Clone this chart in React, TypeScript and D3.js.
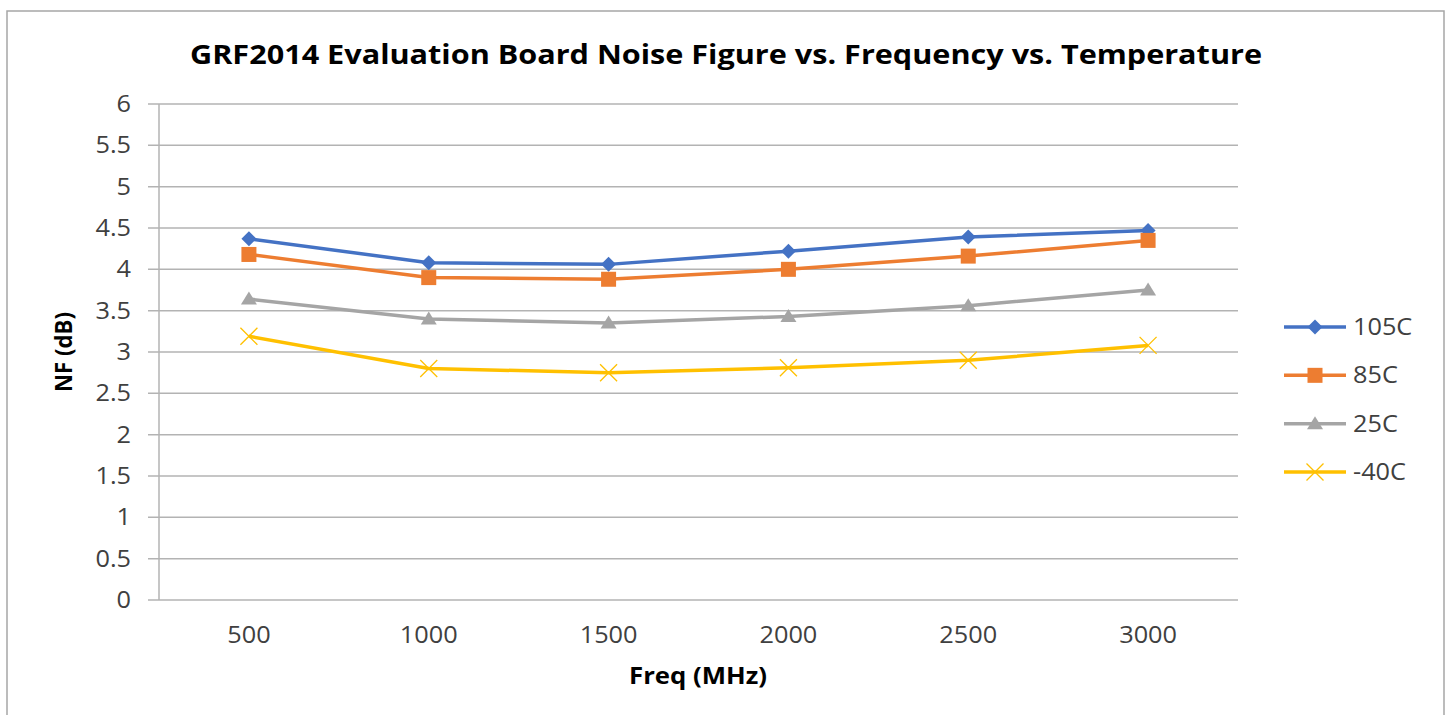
import * as d3 from "d3";

const freqs = ["500", "1000", "1500", "2000", "2500", "3000"];
const seriesNames = ["105C", "85C", "25C", "-40C"];
const nf105 = [4.37, 4.08, 4.06, 4.22, 4.39, 4.47];
const nf85 = [4.18, 3.9, 3.88, 4.0, 4.16, 4.35];
const nf25 = [3.64, 3.4, 3.35, 3.43, 3.56, 3.75];
const nfMinus40 = [3.19, 2.8, 2.75, 2.81, 2.9, 3.08];
const yTicks = [0, 0.5, 1, 1.5, 2, 2.5, 3, 3.5, 4, 4.5, 5, 5.5, 6];

const colors = ["#4472C4", "#ED7D31", "#A5A5A5", "#FFC000"];
const markers = ["diamond", "square", "triangle", "cross"];

const W = 1449;
const H = 715;
const plot = { left: 159, right: 1238, top: 104, bottom: 600 };
const font = "'Open Sans', 'Noto Sans', sans-serif";
const stretch = 1.1;

function Marker({ kind, x, y, color }: { kind: string; x: number; y: number; color: string }) {
  if (kind === "diamond") {
    const s = 7.5;
    return <path d={`M${x},${y - s}L${x + s},${y}L${x},${y + s}L${x - s},${y}Z`} fill={color} />;
  }
  if (kind === "square") {
    return <rect x={x - 7.5} y={y - 7.5} width={15} height={15} fill={color} />;
  }
  if (kind === "triangle") {
    return <path d={`M${x},${y - 7.5}L${x + 8},${y + 5.5}L${x - 8},${y + 5.5}Z`} fill={color} />;
  }
  const s = 8.5;
  return (
    <path
      d={`M${x - s},${y - s}L${x + s},${y + s}M${x - s},${y + s}L${x + s},${y - s}`}
      stroke={color}
      strokeWidth={1.3}
      fill="none"
    />
  );
}

// excel-ish labels are a bit wider than Open Sans, so stretch them horizontally
function Label({ x, y, anchor, children }: { x: number; y: number; anchor: string; children: any }) {
  return (
    <g transform={`translate(${x},${y}) scale(${stretch},1)`}>
      <text dy="0.35em" textAnchor={anchor} fontSize={23} fill="#404040">
        {children}
      </text>
    </g>
  );
}

export default function App() {
  const values = [nf105, nf85, nf25, nfMinus40];

  const x = d3.scaleBand().domain(freqs).range([plot.left, plot.right]);
  const y = d3.scaleLinear().domain([0, 6]).range([plot.bottom, plot.top]);
  const cx = (f: string) => (x(f) ?? 0) + x.bandwidth() / 2;

  const line = d3
    .line<number>()
    .x((_, i) => cx(freqs[i]))
    .y((d) => y(d));

  const legendX = 1284;
  const legendY = d3.scalePoint().domain(seriesNames).range([327, 472]);

  return (
    <svg
      width={W}
      height={H}
      style={{ position: "absolute", left: 0, top: 0, background: "#fff" }}
      fontFamily={font}
    >
      <rect x={7} y={11} width={1437} height={H + 10} fill="#fff" stroke="#a6a6a6" strokeWidth={1.5} />

      <text
        x={726}
        y={55}
        dy="0.35em"
        textAnchor="middle"
        fontSize={26}
        fontWeight="bold"
        fill="#000"
        textLength={1072}
        lengthAdjust="spacingAndGlyphs"
      >
        GRF2014 Evaluation Board Noise Figure vs. Frequency vs. Temperature
      </text>

      {yTicks.map((t) => (
        <g key={t}>
          <line x1={148} x2={plot.right} y1={y(t)} y2={y(t)} stroke="#b3b3b3" strokeWidth={1.5} />
          <Label x={131} y={y(t)} anchor="end">
            {t}
          </Label>
        </g>
      ))}
      <line x1={plot.left} x2={plot.left} y1={plot.top} y2={plot.bottom} stroke="#b3b3b3" strokeWidth={1.5} />

      {freqs.map((f) => (
        <Label key={f} x={cx(f)} y={635} anchor="middle">
          {f}
        </Label>
      ))}

      <text
        x={698}
        y={676}
        dy="0.35em"
        textAnchor="middle"
        fontSize={23}
        fontWeight="bold"
        fill="#000"
        textLength={138}
        lengthAdjust="spacingAndGlyphs"
      >
        Freq (MHz)
      </text>
      <text
        transform={`translate(64,352) rotate(-90)`}
        dy="0.35em"
        textAnchor="middle"
        fontSize={23}
        fontWeight="bold"
        fill="#000"
        textLength={80}
        lengthAdjust="spacingAndGlyphs"
      >
        NF (dB)
      </text>

      {values.map((vals, si) => (
        <g key={seriesNames[si]}>
          <path d={line(vals) ?? ""} fill="none" stroke={colors[si]} strokeWidth={3.5} strokeLinejoin="round" />
          {vals.map((v, i) => (
            <Marker key={i} kind={markers[si]} x={cx(freqs[i])} y={y(v)} color={colors[si]} />
          ))}
        </g>
      ))}

      {seriesNames.map((name, si) => {
        const ly = legendY(name) ?? 0;
        return (
          <g key={name}>
            <line x1={legendX} x2={legendX + 62} y1={ly} y2={ly} stroke={colors[si]} strokeWidth={3.5} />
            <Marker kind={markers[si]} x={legendX + 31} y={ly} color={colors[si]} />
            <Label x={legendX + 69} y={ly} anchor="start">
              {name}
            </Label>
          </g>
        );
      })}
    </svg>
  );
}
